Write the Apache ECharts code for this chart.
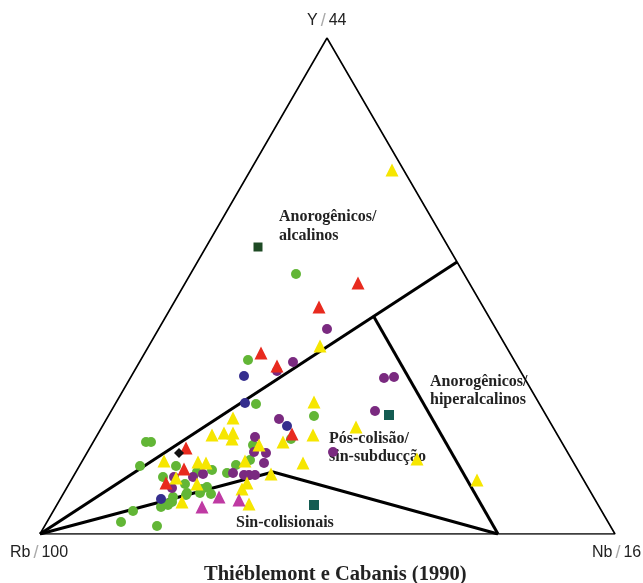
<!DOCTYPE html>
<html><head><meta charset="utf-8">
<script src="https://cdn.jsdelivr.net/npm/echarts@6/dist/echarts.min.js"></script>
<style>html,body{margin:0;padding:0;background:#fff}#c{width:643px;height:583px}</style>
</head><body><div id="c"></div>
<script>
// Diagram units: Rb vertex at (0,0), Nb vertex at (575,0), Y vertex at (287,496)
const outerTriangle = [[0,0],[575,0],[287,496],[0,0]];
const boundaryLong = [[0,0],[417,272]];
const boundaryHiper = [[334,217],[458,0]];
const boundarySin = [[0,0],[233,62],[458,0]];

const greenCircles = [[256,260],[208,174],[216,130],[274,118],[251,95],[213,89],[210,74],[187,61],[172,64],[136,68],[100,68],[106,92],[111,92],[123,57],[145,50],[157,62],[160,41],[171,40],[146,39],[133,37],[132,32],[127,30],[121,27],[93,23],[81,12],[117,8],[167,47],[196,69],[162,45],[147,41],[128,29]];
const purpleCircles = [[287,205],[253,172],[237,163],[344,156],[354,157],[335,123],[239,115],[215,97],[214,82],[226,81],[224,71],[293,82],[193,61],[204,59],[209,59],[215,59],[163,60],[153,57],[134,57],[132,46]];
const blueCircles = [[204,158],[205,131],[247,108],[121,35]];
const redTriangles = [[318,251],[279,227],[221,181],[237,168],[252,100],[146,86],[144,65],[126,51]];
const yellowTriangles = [[352,364],[280,188],[274,132],[193,116],[172,99],[184,101],[193,101],[192,95],[243,92],[273,99],[316,107],[124,73],[158,72],[166,71],[205,73],[263,71],[377,75],[437,54],[136,56],[157,50],[231,60],[207,51],[202,45],[142,32],[209,30],[219,89]];
const magentaTriangles = [[179,37],[199,34],[162,27]];
const darkGreenSquares = [[218,287]];
const tealSquares = [[349,119],[274,29]];
const blackDiamonds = [[139,81]];

const chart = echarts.init(document.getElementById('c'));
function lineSeries(data, w) {
  return {type:'line', data:data, symbol:'none', silent:true, z:1,
    lineStyle:{color:'#000', width:w}, animation:false};
}
function pts(data, symbol, size, color) {
  return {type:'scatter', data:data, symbol:symbol, symbolSize:size, z:3,
    itemStyle:{color:color, opacity:1}, animation:false};
}
const serif = '"Liberation Serif","Times New Roman",serif';
const sans = '"Liberation Sans",Arial,sans-serif';
const cornerRich = {a:{fontFamily:sans, fontSize:16, fill:'#222'}, s:{fontFamily:sans, fontSize:18, fill:'#aaa', padding:[0,3,0,3]}};
chart.setOption({
  backgroundColor:'#fff',
  animation:false,
  grid:{left:40, right:28, top:38, bottom:49},
  xAxis:{type:'value', min:0, max:575, show:false},
  yAxis:{type:'value', min:0, max:496, show:false},
  series:[
    lineSeries(outerTriangle, 1.6),
    lineSeries(boundaryLong, 3),
    lineSeries(boundaryHiper, 3),
    lineSeries(boundarySin, 3),
    pts(greenCircles, 'circle', 10, '#62b636'),
    pts(purpleCircles, 'circle', 10, '#7a2a80'),
    pts(blueCircles, 'circle', 10, '#352e8e'),
    pts(redTriangles, 'triangle', 13, '#e82a1e'),
    pts(yellowTriangles, 'triangle', 13, '#f6e600'),
    pts(magentaTriangles, 'triangle', 13, '#bf3aa3'),
    pts(darkGreenSquares, 'rect', 9, '#1e4a24'),
    pts(tealSquares, 'rect', 10, '#145c52'),
    pts(blackDiamonds, 'diamond', 10, '#111')
  ],
  graphic:[
    {type:'text', left:307, top:12, style:{text:'{a|Y}{s|/}{a|44}', rich:cornerRich}},
    {type:'text', left:10, top:544, style:{text:'{a|Rb}{s|/}{a|100}', rich:cornerRich}},
    {type:'text', left:592, top:544, style:{text:'{a|Nb}{s|/}{a|16}', rich:cornerRich}},
    {type:'text', left:204, top:564, style:{text:'Thiéblemont e Cabanis (1990)', fontFamily:serif, fontWeight:'bold', fontSize:20.5, fill:'#222'}},
    {type:'text', left:279, top:207, z:0, style:{text:'Anorogênicos/\nalcalinos', fontFamily:serif, fontWeight:'bold', fontSize:16, lineHeight:19, fill:'#222'}},
    {type:'text', left:430, top:373, z:0, style:{text:'Anorogênicos/\nhiperalcalinos', fontFamily:serif, fontWeight:'bold', fontSize:16, lineHeight:18, fill:'#222'}},
    {type:'text', left:329, top:430, z:0, style:{text:'Pós-colisão/\nsin-subducção', fontFamily:serif, fontWeight:'bold', fontSize:16, lineHeight:18, fill:'#222'}},
    {type:'text', left:236, top:515, z:0, style:{text:'Sin-colisionais', fontFamily:serif, fontWeight:'bold', fontSize:16, fill:'#222'}}
  ]
});
</script></body></html>
